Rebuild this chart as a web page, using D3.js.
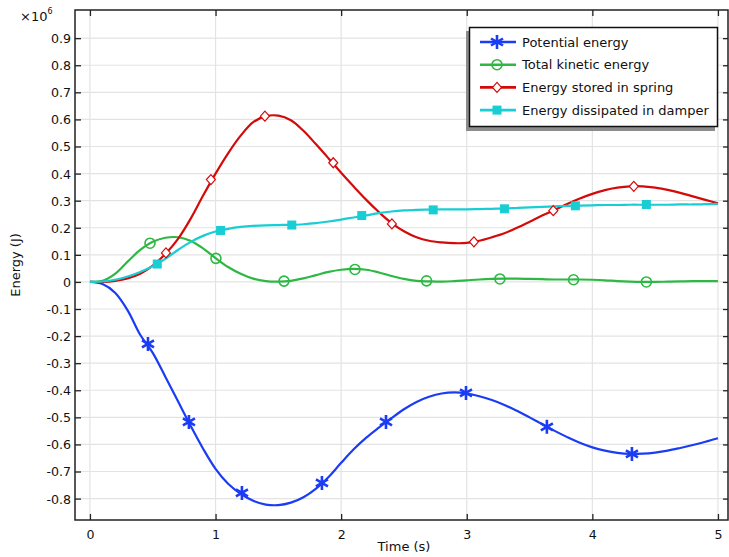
<html>
<head>
<meta charset="utf-8">
<script src="https://d3js.org/d3.v7.min.js"></script>
<style>
    body { margin: 0; background: #fff; }
    text { font-family: "DejaVu Sans", sans-serif; font-size: 13px; fill: #111; }
</style>
</head>
<body>
<div id="chart"></div>
<script>
    // time samples (s)
    var time = d3.range(0, 51).map(function (i) { return i / 10; });

    // energies, x10^6 J, every 0.1 s
    var potential = [0, -0.008, -0.04, -0.105, -0.195, -0.262, -0.35, -0.44, -0.53, -0.615,
        -0.69, -0.745, -0.782, -0.808, -0.822, -0.824, -0.815, -0.795, -0.763, -0.72,
        -0.668, -0.618, -0.575, -0.538, -0.503, -0.47, -0.443, -0.424, -0.412, -0.408,
        -0.412, -0.422, -0.436, -0.454, -0.476, -0.5, -0.525, -0.55, -0.573, -0.594,
        -0.611, -0.623, -0.631, -0.635, -0.634, -0.63, -0.623, -0.613, -0.602, -0.59, -0.577];
    var kinetic = [0, 0.004, 0.03, 0.075, 0.118, 0.148, 0.163, 0.165, 0.152, 0.124,
        0.088, 0.055, 0.03, 0.012, 0.003, 0.001, 0.004, 0.013, 0.025, 0.037,
        0.045, 0.048, 0.045, 0.035, 0.022, 0.011, 0.004, 0.002, 0.001, 0.003,
        0.006, 0.009, 0.011, 0.012, 0.012, 0.011, 0.01, 0.009, 0.009, 0.009,
        0.008, 0.006, 0.003, 0.001, 0.0, 0.0, 0.001, 0.002, 0.003, 0.003, 0.003];
    var spring = [0, 0.0, 0.004, 0.013, 0.03, 0.06, 0.103, 0.158, 0.232, 0.318,
        0.4, 0.475, 0.54, 0.59, 0.612, 0.614, 0.597, 0.558, 0.508, 0.456,
        0.403, 0.352, 0.303, 0.258, 0.218, 0.187, 0.165, 0.152, 0.146, 0.143,
        0.144, 0.152, 0.165, 0.18, 0.2, 0.222, 0.245, 0.266, 0.288, 0.308,
        0.325, 0.339, 0.348, 0.353, 0.353, 0.348, 0.34, 0.329, 0.316, 0.303, 0.29];
    var damper = [0, 0.002, 0.008, 0.02, 0.037, 0.058, 0.085, 0.118, 0.147, 0.17,
        0.186, 0.196, 0.203, 0.207, 0.209, 0.21, 0.211, 0.213, 0.217, 0.223,
        0.23, 0.238, 0.246, 0.254, 0.26, 0.264, 0.266, 0.267, 0.268, 0.268,
        0.268, 0.269, 0.27, 0.271, 0.273, 0.275, 0.277, 0.279, 0.281, 0.282,
        0.283, 0.284, 0.284, 0.285, 0.285, 0.285, 0.285, 0.286, 0.286, 0.287, 0.288];

    // marker positions
    var potentialMarkT = [0.462, 0.788, 1.21, 1.847, 2.357, 2.994, 3.638, 4.315];
    var potentialMarkV = [-0.229, -0.517, -0.779, -0.742, -0.517, -0.41, -0.535, -0.635];
    var kineticMarkT = [0.478, 1.003, 1.545, 2.11, 2.68, 3.264, 3.85, 4.43];
    var kineticMarkV = [0.143, 0.087, 0.003, 0.046, 0.004, 0.011, 0.008, 0.0];
    var springMarkT = [0.605, 0.963, 1.393, 1.937, 2.404, 3.057, 3.689, 4.33];
    var springMarkV = [0.107, 0.378, 0.612, 0.44, 0.214, 0.148, 0.263, 0.353];
    var damperMarkT = [0.536, 1.04, 1.607, 2.164, 2.733, 3.3, 3.865, 4.43];
    var damperMarkV = [0.066, 0.19, 0.21, 0.245, 0.266, 0.27, 0.281, 0.286];

    var xTicks = [0, 1, 2, 3, 4, 5];
    var yTicks = d3.range(-8, 10).map(function (i) { return i / 10; });

    function draw() {
        var width = 729, height = 557;
        var pLeft = 75, pRight = 728, pTop = 10, pBottom = 520;

        var xs = d3.scaleLinear().domain([-0.119, 5.08]).range([pLeft, pRight]);
        var ys = d3.scaleLinear().domain([-0.879, 1.004]).range([pBottom, pTop]);

        var svg = d3.select("#chart").append("svg")
            .attr("width", width)
            .attr("height", height);

        // grid
        svg.append("g").selectAll("line").data(xTicks).enter().append("line")
            .attr("x1", function (d) { return xs(d); }).attr("x2", function (d) { return xs(d); })
            .attr("y1", pTop).attr("y2", pBottom)
            .attr("stroke", "#e3e3e3").attr("stroke-width", 1.2);
        svg.append("g").selectAll("line").data(yTicks).enter().append("line")
            .attr("x1", pLeft).attr("x2", pRight)
            .attr("y1", function (d) { return ys(d); }).attr("y2", function (d) { return ys(d); })
            .attr("stroke", "#e3e3e3").attr("stroke-width", 1.2);

        // axes (ticks inward on all four sides)
        var fmt = function (d) { return d === 0 ? "0" : d3.format(".1f")(d).replace("\u2212", "-"); };
        var yAxis = svg.append("g")
            .attr("transform", "translate(" + pLeft + ",0)")
            .call(d3.axisRight(ys).tickValues(yTicks).tickSize(6).tickFormat(fmt));
        yAxis.selectAll("text").attr("text-anchor", "end").attr("x", -4).attr("dy", "0.35em");
        svg.append("g")
            .attr("transform", "translate(" + pRight + ",0)")
            .call(d3.axisLeft(ys).tickValues(yTicks).tickSize(5).tickFormat(""));
        var xAxis = svg.append("g")
            .attr("transform", "translate(0," + pBottom + ")")
            .call(d3.axisTop(xs).tickValues(xTicks).tickSize(6).tickFormat(d3.format("d")));
        xAxis.selectAll("text").attr("y", 19);
        svg.append("g")
            .attr("transform", "translate(0," + pTop + ")")
            .call(d3.axisBottom(xs).tickValues(xTicks).tickSize(6).tickFormat(""));
        svg.selectAll(".domain").remove();
        svg.selectAll(".tick line").attr("stroke", "#222").attr("stroke-width", 1.3);
        svg.selectAll(".tick text").style("font-size", "12.6px").attr("fill", "#111");

        // frame
        svg.append("rect")
            .attr("x", pLeft).attr("y", pTop)
            .attr("width", pRight - pLeft).attr("height", pBottom - pTop)
            .attr("fill", "none").attr("stroke", "#222").attr("stroke-width", 1.5);

        // labels
        svg.append("text").attr("x", 404).attr("y", 551).attr("text-anchor", "middle").text("Time (s)");
        svg.append("text")
            .attr("transform", "translate(20," + ((pTop + pBottom) / 2) + ") rotate(-90)")
            .attr("text-anchor", "middle").text("Energy (J)");
        var mult = svg.append("text").attr("x", 20).attr("y", 21);
        mult.append("tspan").text("\u00d710");
        mult.append("tspan").attr("dy", -7).style("font-size", "8px").text("6");

        var line = d3.line()
            .x(function (d) { return xs(d[0]); })
            .y(function (d) { return ys(d[1]); })
            .curve(d3.curveCatmullRom);

        function zip(t, v) { return t.map(function (d, i) { return [d, v[i]]; }); }

        var series = [
            { name: "Potential energy", values: potential, mt: potentialMarkT, mv: potentialMarkV, color: "#1b3cf5", marker: "star" },
            { name: "Total kinetic energy", values: kinetic, mt: kineticMarkT, mv: kineticMarkV, color: "#2db843", marker: "circle" },
            { name: "Energy stored in spring", values: spring, mt: springMarkT, mv: springMarkV, color: "#d40a0a", marker: "diamond" },
            { name: "Energy dissipated in damper", values: damper, mt: damperMarkT, mv: damperMarkV, color: "#18cdd3", marker: "square" }
        ];

        function drawMarker(g, type, color) {
            if (type == "star") {
                g.append("path")
                    .attr("d", "M0,-7V7M-6,-3.5L6,3.5M-6,3.5L6,-3.5")
                    .attr("stroke", color).attr("stroke-width", 2.6).attr("fill", "none");
            } else if (type == "circle") {
                g.append("circle").attr("r", 5)
                    .attr("fill", "none").attr("stroke", color).attr("stroke-width", 1.6);
            } else if (type == "diamond") {
                g.append("path").attr("d", "M0,-5L4.5,0L0,5L-4.5,0Z")
                    .attr("fill", "#fff").attr("stroke", color).attr("stroke-width", 1.2);
            } else {
                g.append("rect").attr("x", -4.5).attr("y", -4.5).attr("width", 9).attr("height", 9)
                    .attr("fill", color);
            }
        }

        var plot = svg.append("g");
        series.forEach(function (s) {
            plot.append("path")
                .datum(zip(time, s.values))
                .attr("fill", "none")
                .attr("stroke", s.color)
                .attr("stroke-width", 2.2)
                .attr("d", line);
        });
        series.forEach(function (s) {
            zip(s.mt, s.mv).forEach(function (p) {
                var g = plot.append("g").attr("transform", "translate(" + xs(p[0]) + "," + ys(p[1]) + ")");
                drawMarker(g, s.marker, s.color);
            });
        });

        // legend
        var lg = svg.append("g");
        lg.append("rect").attr("x", 466).attr("y", 31).attr("width", 249).attr("height", 100).attr("fill", "#8c8c8c");
        lg.append("rect").attr("x", 469.5).attr("y", 27.5).attr("width", 248).attr("height", 99)
            .attr("fill", "#fff").attr("stroke", "#111").attr("stroke-width", 1.5);
        series.forEach(function (s, i) {
            var y = 42 + i * 22.7;
            lg.append("line").attr("x1", 480).attr("x2", 516).attr("y1", y).attr("y2", y)
                .attr("stroke", s.color).attr("stroke-width", 2.6);
            drawMarker(lg.append("g").attr("transform", "translate(497," + y + ")"), s.marker, s.color);
            lg.append("text").attr("x", 522).attr("y", y).attr("dy", "0.35em").text(s.name);
        });
    }
    draw();
</script>
</body>
</html>
